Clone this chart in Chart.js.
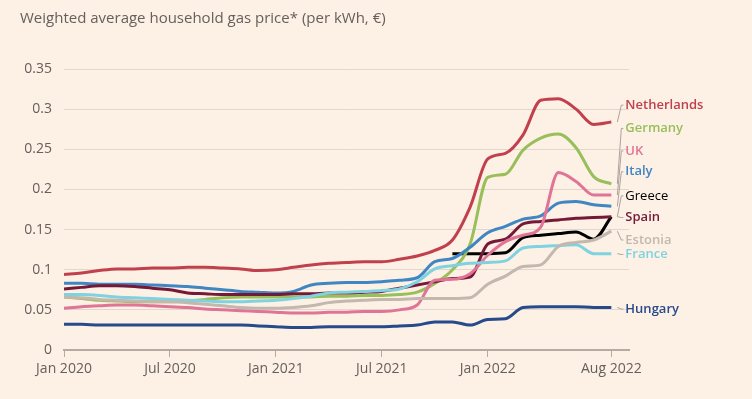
<!DOCTYPE html>
<html>
<head>
<meta charset="utf-8">
<script src="https://cdn.jsdelivr.net/npm/chart.js@4"></script>
<style>
  html, body { margin: 0; padding: 0; background: #fdf0e5; }
  #wrap { width: 752px; height: 399px; position: relative; }
</style>
</head>
<body>
<div id="wrap"><canvas id="gasChart"></canvas></div>
<script>
// monthly values, Jan 2020 (index 0) to Aug 2022 (index 31), € per kWh
const netherlands = [0.094,0.096,0.099,0.101,0.101,0.102,0.102,0.103,0.103,0.102,0.101,0.099,0.100,0.103,0.106,0.108,0.109,0.110,0.110,0.113,0.117,0.124,0.137,0.178,0.238,0.245,0.268,0.311,0.313,0.300,0.281,0.284];
const germany     = [0.066,0.064,0.062,0.061,0.060,0.060,0.060,0.061,0.063,0.065,0.066,0.066,0.066,0.066,0.066,0.067,0.067,0.068,0.068,0.069,0.072,0.083,0.100,0.132,0.215,0.219,0.249,0.264,0.269,0.252,0.216,0.207];
const uk          = [0.052,0.054,0.055,0.056,0.056,0.055,0.054,0.053,0.051,0.050,0.049,0.048,0.047,0.046,0.046,0.047,0.047,0.048,0.048,0.050,0.056,0.087,0.088,0.095,0.118,0.135,0.143,0.153,0.221,0.210,0.193,0.193];
const italy       = [0.083,0.083,0.082,0.082,0.082,0.081,0.080,0.079,0.077,0.075,0.073,0.072,0.071,0.073,0.081,0.083,0.084,0.084,0.085,0.087,0.090,0.110,0.114,0.128,0.146,0.154,0.163,0.167,0.183,0.185,0.181,0.179];
const greece      = [null,null,null,null,null,null,null,null,null,null,null,null,null,null,null,null,null,null,null,null,null,null,0.120,0.120,0.120,0.121,0.140,0.143,0.145,0.147,0.138,0.166];
const spain       = [0.076,0.078,0.080,0.080,0.079,0.077,0.075,0.071,0.070,0.069,0.069,0.069,0.069,0.070,0.070,0.071,0.071,0.072,0.073,0.077,0.081,0.085,0.089,0.091,0.132,0.138,0.157,0.160,0.162,0.164,0.165,0.166];
const estonia     = [0.066,0.065,0.063,0.062,0.061,0.060,0.060,0.059,0.057,0.055,0.053,0.052,0.052,0.053,0.055,0.059,0.061,0.062,0.063,0.063,0.064,0.064,0.064,0.065,0.082,0.092,0.104,0.106,0.129,0.134,0.137,0.148];
const france      = [0.069,0.069,0.068,0.066,0.065,0.064,0.063,0.062,0.061,0.060,0.060,0.061,0.062,0.064,0.067,0.071,0.072,0.073,0.074,0.076,0.085,0.101,0.105,0.108,0.109,0.111,0.127,0.129,0.130,0.131,0.120,0.120];
const hungary     = [0.032,0.032,0.031,0.031,0.031,0.031,0.031,0.031,0.031,0.031,0.031,0.030,0.029,0.028,0.028,0.029,0.029,0.029,0.029,0.030,0.031,0.035,0.035,0.031,0.038,0.039,0.053,0.054,0.054,0.054,0.053,0.053];

const xTickMonths = [0, 6, 12, 18, 24, 31];
const xTickLabels = ['Jan 2020', 'Jul 2020', 'Jan 2021', 'Jul 2021', 'Jan 2022', 'Aug 2022'];

// drawing order: last one ends up on top
const series = [
  { name: 'Hungary',     data: hungary,     color: '#264a8a', labelAt: 0.051 },
  { name: 'Estonia',     data: estonia,     color: '#c3b8ae', labelAt: 0.137 },
  { name: 'France',      data: france,      color: '#7fd2df', labelAt: 0.119 },
  { name: 'UK',          data: uk,          color: '#e07497', labelAt: 0.248 },
  { name: 'Spain',       data: spain,       color: '#741a38', labelAt: 0.165 },
  { name: 'Italy',       data: italy,       color: '#3f86c3', labelAt: 0.222 },
  { name: 'Germany',     data: germany,     color: '#98bf5a', labelAt: 0.276 },
  { name: 'Netherlands', data: netherlands, color: '#c0404c', labelAt: 0.305 },
  { name: 'Greece',      data: greece,      color: '#000000', labelAt: 0.192 }
];

const textGrey = '#66605c';

// country names on the right with little leader lines
const endLabels = {
  id: 'endLabels',
  afterDatasetsDraw(chart) {
    const ctx = chart.ctx;
    const xs = chart.scales.x, ys = chart.scales.y;
    ctx.save();
    chart.data.datasets.forEach(ds => {
      const last = ds.data[ds.data.length - 1];
      const xEnd = xs.getPixelForValue(last.x);
      const yEnd = ys.getPixelForValue(last.y);
      const yLab = ys.getPixelForValue(ds.labelAt);
      ctx.strokeStyle = '#aaa39d';
      ctx.lineWidth = 1;
      ctx.beginPath();
      ctx.moveTo(xEnd + 6, yEnd);
      ctx.lineTo(xEnd + 10, yLab);
      ctx.lineTo(xEnd + 12, yLab);
      ctx.stroke();
      ctx.fillStyle = ds.borderColor;
      ctx.font = (ds.label === 'Greece' ? '400' : '600') + " 13px 'Open Sans'";
      ctx.textBaseline = 'middle';
      ctx.textAlign = 'left';
      ctx.fillText(ds.label, xEnd + 14, yLab);
    });
    ctx.restore();
  }
};

new Chart(document.getElementById('gasChart').getContext('2d'), {
  type: 'line',
  data: {
    datasets: series.map(s => ({
      label: s.name,
      data: s.data.map((v, i) => ({ x: i, y: v })).filter(p => p.y !== null),
      borderColor: s.color,
      backgroundColor: s.color,
      borderWidth: 3,
      pointRadius: 0,
      cubicInterpolationMode: 'monotone',
      labelAt: s.labelAt
    }))
  },
  options: {
    responsive: true,
    maintainAspectRatio: false,
    animation: false,
    layout: { padding: { left: 20, right: 123, top: 0, bottom: 0 } },
    plugins: {
      legend: { display: false },
      tooltip: { enabled: false },
      title: {
        display: true,
        text: 'Weighted average household gas price* (per kWh, €)',
        align: 'start',
        color: textGrey,
        font: { family: 'Open Sans', size: 15, weight: '400', lineHeight: 1.2 },
        padding: { top: 10, bottom: 41 }
      }
    },
    scales: {
      x: {
        type: 'linear',
        min: 0,
        max: 32,
        afterBuildTicks: scale => { scale.ticks = xTickMonths.map(v => ({ value: v })); },
        afterFit: scale => { scale.height = 49; },
        ticks: {
          autoSkip: false,
          maxRotation: 0,
          padding: 4,
          color: textGrey,
          font: { family: 'Open Sans', size: 14 },
          callback: v => xTickLabels[xTickMonths.indexOf(v)]
        },
        grid: { drawOnChartArea: false, tickLength: 7, color: '#b5aba2', lineWidth: 1 },
        border: { display: true, color: '#b5aba2', width: 2 }
      },
      y: {
        min: 0,
        max: 0.35,
        afterFit: scale => { scale.width = 44; },
        ticks: {
          stepSize: 0.05,
          padding: 12,
          color: textGrey,
          font: { family: 'Open Sans', size: 14 },
          callback: v => String(Number(v.toFixed(2)))
        },
        grid: { color: '#e1d7cd', lineWidth: 1, drawTicks: false },
        border: { display: false }
      }
    }
  },
  plugins: [endLabels]
});
</script>
</body>
</html>
